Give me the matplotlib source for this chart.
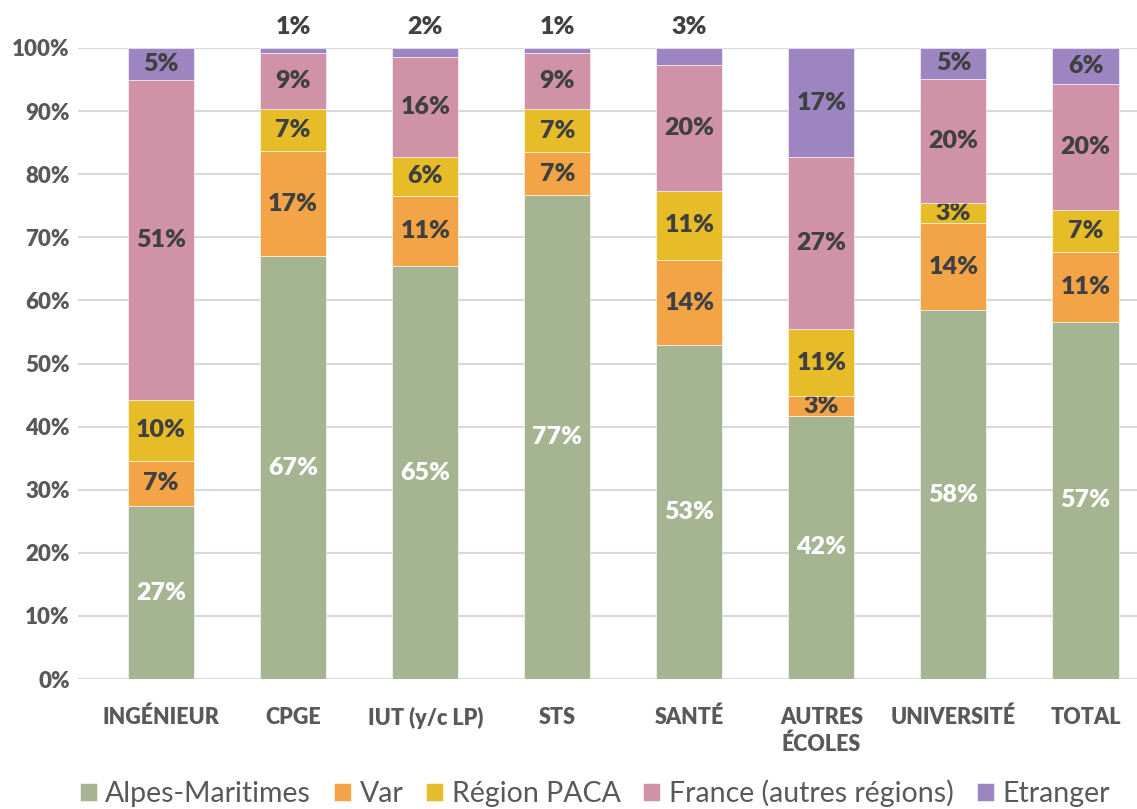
import numpy as np
import matplotlib
matplotlib.use("Agg")
import matplotlib.pyplot as plt

plt.rcParams['font.family'] = ['Lato', 'DejaVu Sans']

categories = ["INGÉNIEUR", "CPGE", "IUT (y/c LP)", "STS", "SANTÉ", "AUTRES\nÉCOLES", "UNIVERSITÉ", "TOTAL"]
series = ["Alpes-Maritimes", "Var", "Région PACA", "France (autres régions)", "Etranger"]

alpes = [27.4, 67.0, 65.4, 76.7, 52.9, 41.7, 58.4, 56.6]
var = [7.2, 16.6, 11.2, 6.8, 13.5, 3.1, 13.8, 11.1]
paca = [9.6, 6.8, 6.1, 6.8, 11.0, 10.7, 3.3, 6.6]
france = [50.7, 8.8, 15.8, 8.9, 19.9, 27.2, 19.6, 20.0]
etranger = [5.1, 0.8, 1.5, 0.8, 2.7, 17.3, 4.9, 5.7]

colors = ["#A5B592", "#F3A447", "#E7BC29", "#D092A7", "#9C85C0"]
label_colors = ["white", "#404040", "#404040", "#404040", "#404040"]

fig = plt.figure(figsize=(11.37, 8.09), dpi=100)
ax = fig.add_axes([78 / 1137, 130 / 809, 1059 / 1137, 631 / 809])

x = np.arange(len(categories))
data = [alpes, var, paca, france, etranger]
bottom = np.zeros(len(categories))
for vals, name, col, lcol in zip(data, series, colors, label_colors):
    vals = np.array(vals)
    ax.bar(x, vals, 0.5, bottom=bottom, color=col, label=name, zorder=3,
           edgecolor="white", linewidth=0.4)
    for xi, v, b in zip(x, vals, bottom):
        if name == "Etranger" and v < 3:
            ax.text(xi, 103.3, f"{v:.0f}%", ha="center", va="center",
                    fontsize=18, fontweight="heavy", color="#404040", clip_on=False)
        else:
            ax.text(xi, b + v / 2, f"{v:.0f}%", ha="center", va="center",
                    fontsize=18, fontweight="heavy", color=lcol)
    bottom += vals

ax.set_xlim(-0.63, 7.39)
ax.set_ylim(0, 100)
ax.set_yticks(np.arange(0, 101, 10))
ax.set_yticklabels([f"{t}%" for t in range(0, 101, 10)])
ax.set_xticks(x)
ax.set_xticklabels(categories, linespacing=1.35)
ax.grid(axis="y", color="#D9D9D9", linewidth=1.5, zorder=0)
for s in ax.spines.values():
    s.set_visible(False)
ax.tick_params(length=0)
ax.tick_params(axis="y", pad=6)
ax.tick_params(axis="x", pad=20)
for lab in ax.get_yticklabels():
    lab.set_fontweight("heavy")
    lab.set_fontsize(16)
    lab.set_color("#595959")
for lab in ax.get_xticklabels():
    lab.set_fontweight("heavy")
    lab.set_fontsize(15.5)
    lab.set_color("#595959")
    lab.set_va("top")

fig.legend(loc="center", bbox_to_anchor=(0.523, 0.02), ncol=5, frameon=False,
           fontsize=20.5, handlelength=0.6, handleheight=0.6, handletextpad=0.3,
           columnspacing=0.8, labelcolor="#595959")

fig.savefig("out.png", dpi=100)
